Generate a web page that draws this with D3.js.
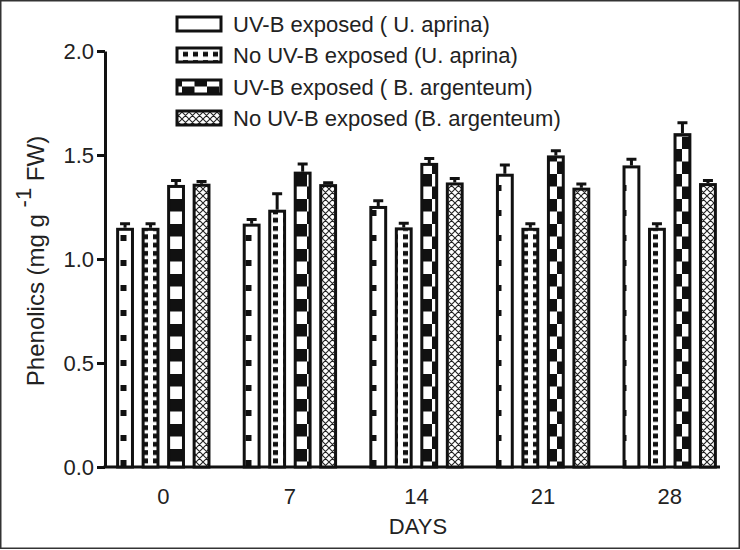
<!DOCTYPE html>
<html>
<head>
<meta charset="utf-8">
<script src="https://cdn.jsdelivr.net/npm/d3@7"></script>
<style>
  body { margin: 0; background: #fff; }
  svg { display: block; font-family: "Liberation Sans", Arial, sans-serif; }
</style>
</head>
<body>
<div id="chart"></div>
<script>
// données
const days = ["0", "7", "14", "21", "28"];
const seriesNames = [
  "UV-B exposed ( U. aprina)",
  "No UV-B exposed (U. aprina)",
  "UV-B exposed ( B. argenteum)",
  "No UV-B exposed (B. argenteum)"
];
const uvAprina   = [1.15, 1.17, 1.255, 1.41, 1.45];
const noAprina   = [1.15, 1.237, 1.152, 1.15, 1.15];
const uvArgent   = [1.356, 1.42, 1.462, 1.498, 1.605];
const noArgent   = [1.362, 1.36, 1.368, 1.343, 1.365];
// barres d'erreur (partie haute seulement)
const errUvAprina = [0.02, 0.02, 0.025, 0.042, 0.03];
const errNoAprina = [0.02, 0.077, 0.02, 0.02, 0.02];
const errUvArgent = [0.021, 0.037, 0.021, 0.022, 0.05];
const errNoArgent = [0.011, 0.007, 0.019, 0.018, 0.013];
const yTicks = [0.0, 0.5, 1.0, 1.5, 2.0];

const values = [uvAprina, noAprina, uvArgent, noArgent];
const errors = [errUvAprina, errNoAprina, errUvArgent, errNoArgent];
const patterns = ["pUvA", "pNoA", "pUvB", "pNoB"];

const W = 740, H = 550;
const svg = d3.select("#chart").append("svg")
  .attr("width", W).attr("height", H);

// motifs de remplissage (coordonnées absolues)
const defs = svg.append("defs");

let p = defs.append("pattern").attr("id", "pUvA")
  .attr("patternUnits", "userSpaceOnUse").attr("width", 25).attr("height", 25);
p.append("rect").attr("width", 25).attr("height", 25).attr("fill", "#fff");
p.append("rect").attr("x", 20.5).attr("y", 10).attr("width", 6).attr("height", 6).attr("fill", "#111");
p.append("rect").attr("x", -4.5).attr("y", 10).attr("width", 6).attr("height", 6).attr("fill", "#111");

p = defs.append("pattern").attr("id", "pNoA")
  .attr("patternUnits", "userSpaceOnUse").attr("width", 10).attr("height", 8.3);
p.append("rect").attr("width", 10).attr("height", 8.3).attr("fill", "#fff");
p.append("rect").attr("x", 3).attr("y", 2).attr("width", 5).attr("height", 4.8).attr("fill", "#111");

p = defs.append("pattern").attr("id", "pUvB")
  .attr("patternUnits", "userSpaceOnUse").attr("width", 25).attr("height", 25);
p.append("rect").attr("width", 25).attr("height", 25).attr("fill", "#fff");
p.append("rect").attr("x", 7).attr("y", 11.5).attr("width", 12.5).attr("height", 12.5).attr("fill", "#111");
p.append("rect").attr("x", 19.5).attr("y", -1).attr("width", 12.5).attr("height", 12.5).attr("fill", "#111");
p.append("rect").attr("x", -5.5).attr("y", -1).attr("width", 12.5).attr("height", 12.5).attr("fill", "#111");
p.append("rect").attr("x", 19.5).attr("y", 24).attr("width", 12.5).attr("height", 12.5).attr("fill", "#111");
p.append("rect").attr("x", -5.5).attr("y", 24).attr("width", 12.5).attr("height", 12.5).attr("fill", "#111");

p = defs.append("pattern").attr("id", "pNoB")
  .attr("patternUnits", "userSpaceOnUse").attr("width", 7).attr("height", 7);
p.append("rect").attr("width", 7).attr("height", 7).attr("fill", "#fff");
p.append("path").attr("d", "M0,0 L7,7 M7,0 L0,7 M-1,6 L1,8 M6,-1 L8,1 M-1,1 L1,-1 M6,8 L8,6")
  .attr("stroke", "#222").attr("stroke-width", 1.1).attr("fill", "none");

// cadre de l'image
svg.append("rect")
  .attr("x", 0.75).attr("y", 0.75).attr("width", W - 1.5).attr("height", H - 2.5)
  .attr("fill", "none").attr("stroke", "#333").attr("stroke-width", 1.5);

// échelles
const y = d3.scaleLinear().domain([0, 2]).range([467, 51]);
const x0 = d3.scaleBand().domain(days).range([100, 733]);
const x1 = d3.scaleBand().domain(d3.range(4)).range([-51, 51])
  .paddingInner(0.3).paddingOuter(0.15);
const bw = x1.bandwidth();
const barX = (day, s) => x0(day) + x0.bandwidth() / 2 + x1(s);

// axe Y
const yAxis = svg.append("g")
  .attr("transform", "translate(105,0)")
  .call(d3.axisLeft(y).tickValues(yTicks).tickFormat(d3.format(".1f")).tickSize(8).tickSizeOuter(0));
yAxis.select(".domain").attr("stroke", "#111").attr("stroke-width", 3);
yAxis.selectAll(".tick line").attr("stroke", "#111").attr("stroke-width", 3);
yAxis.selectAll(".tick text")
  .attr("font-size", 22).attr("fill", "#222").attr("x", -11)
  .style("font-family", "Liberation Sans, Arial, sans-serif");

// axe X (sans graduations)
const xAxis = svg.append("g")
  .attr("transform", "translate(0,467)")
  .call(d3.axisBottom(x0).tickSize(0).tickSizeOuter(0));
xAxis.select(".domain").attr("d", "M103.5,0H720").attr("stroke", "#111").attr("stroke-width", 3);
xAxis.selectAll(".tick text")
  .attr("font-size", 22).attr("fill", "#222").attr("y", 21)
  .style("font-family", "Liberation Sans, Arial, sans-serif");

// barres
const cells = [];
days.forEach((d, i) => values.forEach((v, s) => {
  cells.push({ day: d, s, v: v[i], e: errors[s][i] });
}));

svg.append("g").selectAll("rect")
  .data(cells)
  .join("rect")
  .attr("x", d => barX(d.day, d.s) + 1.5)
  .attr("y", d => y(d.v) + 1.5)
  .attr("width", bw - 3)
  .attr("height", d => y(0) - y(d.v) - 1.5)
  .attr("fill", d => `url(#${patterns[d.s]})`)
  .attr("stroke", "#111")
  .attr("stroke-width", 3);

// barres d'erreur
svg.append("g").selectAll("path")
  .data(cells)
  .join("path")
  .attr("d", d => {
    const cx = barX(d.day, d.s) + bw / 2;
    const top = y(d.v + d.e);
    return `M${cx},${y(d.v)}V${top}M${cx - 5},${top}H${cx + 5}`;
  })
  .attr("fill", "none")
  .attr("stroke", "#111")
  .attr("stroke-width", 3);

// légende
const legend = svg.append("g");
const legY = [24, 55, 87, 118];
seriesNames.forEach((name, s) => {
  legend.append("rect")
    .attr("x", 177).attr("y", legY[s] - 7)
    .attr("width", 44).attr("height", 14)
    .attr("fill", `url(#${patterns[s]})`)
    .attr("stroke", "#111").attr("stroke-width", 3);
  legend.append("text")
    .attr("x", 233).attr("y", legY[s] + 8)
    .attr("font-size", 22).attr("fill", "#222")
    .text(name);
});

// titres des axes
svg.append("text")
  .attr("x", 418).attr("y", 534)
  .attr("text-anchor", "middle")
  .attr("font-size", 22).attr("fill", "#222")
  .text("DAYS");

const yt = svg.append("text")
  .attr("transform", "translate(44,261) rotate(-90)")
  .attr("text-anchor", "middle")
  .attr("font-size", 24).attr("fill", "#222");
yt.append("tspan").text("Phenolics (mg g ");
yt.append("tspan").attr("dy", -13).attr("font-size", 22).text("-1");
yt.append("tspan").attr("dy", 13).text(" FW)");
</script>
</body>
</html>
